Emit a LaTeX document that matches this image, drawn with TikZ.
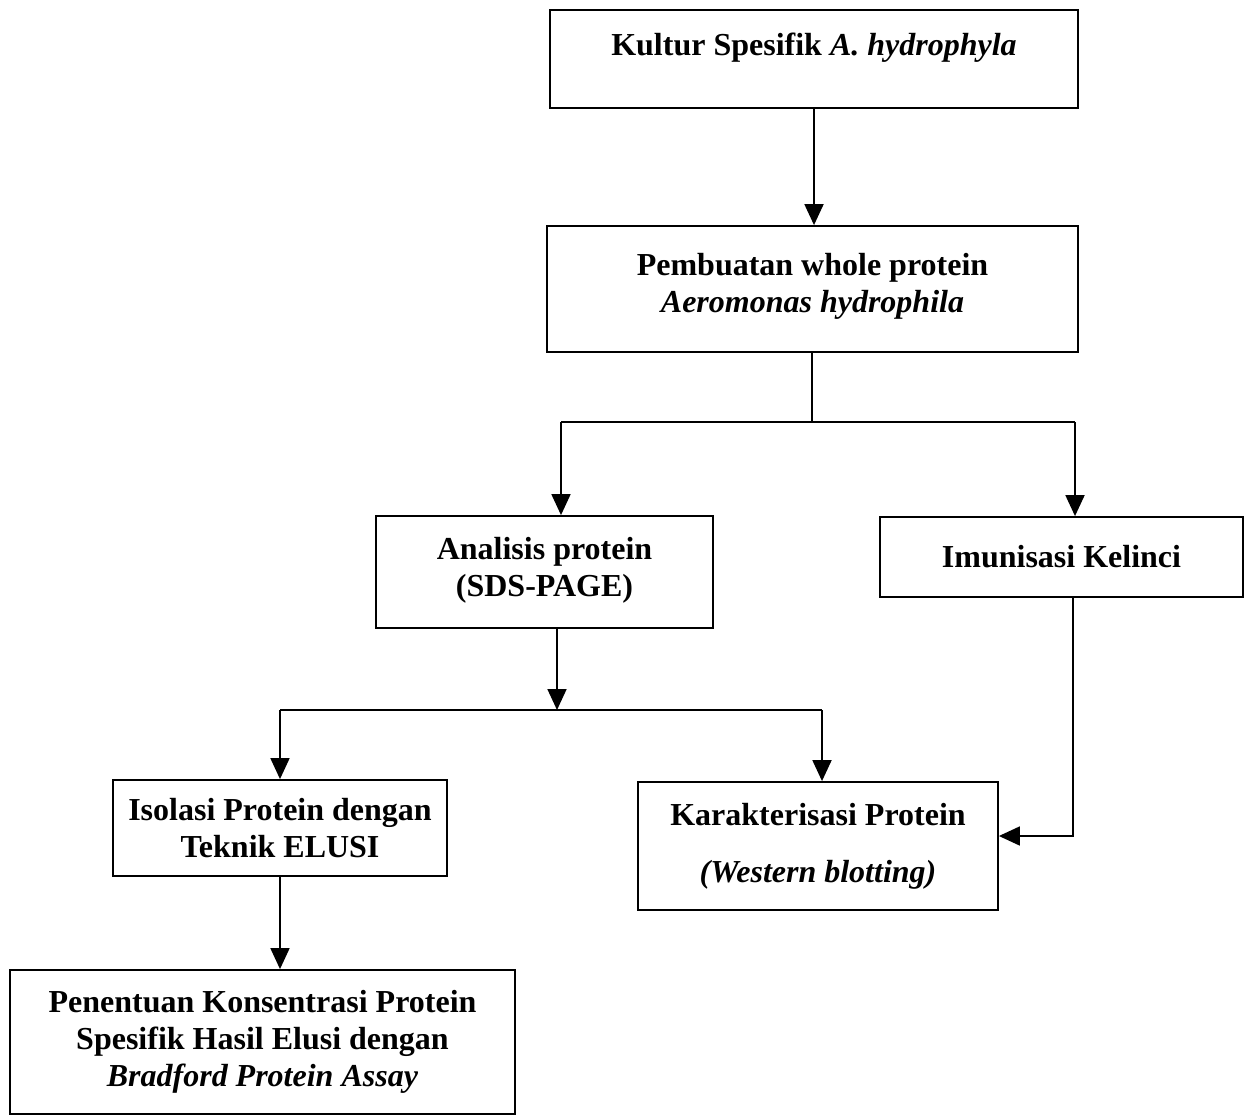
\documentclass[tikz,border=0pt]{standalone}
\usepackage{fontspec}
\setmainfont{Liberation Serif}
\usetikzlibrary{arrows.meta}
\begin{document}
\begin{tikzpicture}[x=1pt,y=-1pt,
  box/.style={draw,line width=1.8pt,align=center,inner sep=0pt,
    font=\fontsize{32}{37}\selectfont\bfseries},
  link/.style={line width=1.8pt},
  arr/.style={line width=1.8pt,-{Triangle[length=21pt,width=19pt]}}]
\useasboundingbox (0,0) rectangle (1247,1116);
\node[box,minimum width=528pt,minimum height=98pt,text depth=30pt] (b1) at (814,59)
  {Kultur Spesifik \textit{A. hydrophyla}};
\node[box,minimum width=531pt,minimum height=126pt,text depth=12pt] (b2) at (812.5,289)
  {Pembuatan whole protein\\\textit{Aeromonas hydrophila}};
\node[box,minimum width=337pt,minimum height=112pt,text depth=10pt] (b3) at (544.5,572)
  {Analisis protein\\(SDS-PAGE)};
\node[box,minimum width=363pt,minimum height=80pt] (b4) at (1061.5,557)
  {Imunisasi Kelinci};
\node[box,minimum width=334pt,minimum height=96pt] (b5) at (280,828)
  {Isolasi Protein dengan\\Teknik ELUSI};
\node[box,minimum width=360pt,minimum height=128pt] (b6) at (818,846)
  {Karakterisasi Protein\\[20pt]\textit{(Western blotting)}};
\node[box,minimum width=505pt,minimum height=144pt] (b7) at (262.5,1042)
  {Penentuan Konsentrasi Protein\\Spesifik Hasil Elusi dengan\\\textit{Bradford Protein Assay}};
% connectors
\draw[arr] (b1.south) -- (b1.south |- b2.north);
\coordinate (s1) at (812,422);
\coordinate (s1l) at (561,422);
\coordinate (s1r) at (1075,422);
\draw[link] (b2.south -| s1) -- (s1);
\draw[link] (s1l) -- (s1r);
\draw[arr] (s1l) -- (s1l |- b3.north);
\draw[arr] (s1r) -- (s1r |- b4.north);
\coordinate (s2) at (557,710);
\coordinate (s2l) at (280,710);
\coordinate (s2r) at (822,710);
\draw[arr] (b3.south -| s2) -- (s2);
\draw[link] (s2l) -- (s2r);
\draw[arr] (s2l) -- (s2l |- b5.north);
\draw[arr] (s2r) -- (s2r |- b6.north);
\draw[arr] (b5.south) -- (b7.north -| b5.south);
\coordinate (k) at (1073,836);
\draw[arr] (b4.south -| k) -- (k) -- (k -| b6.east);
\end{tikzpicture}
\end{document}
